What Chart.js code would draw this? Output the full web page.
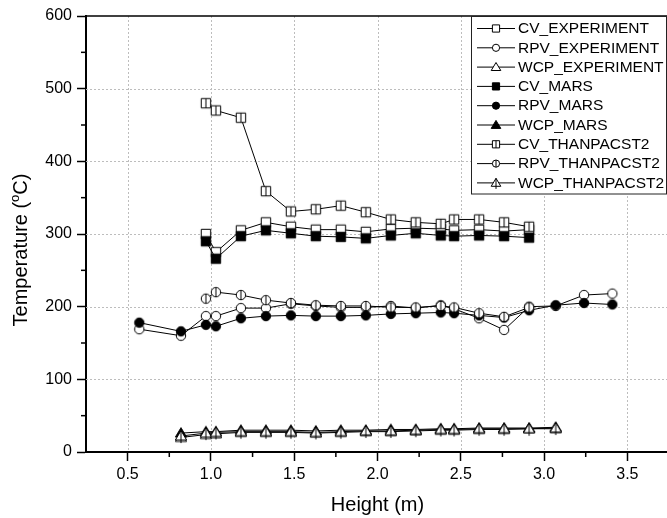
<!DOCTYPE html>
<html>
<head>
<meta charset="utf-8">
<script src="https://cdn.jsdelivr.net/npm/chart.js@4"></script>
<style>
  html, body { margin: 0; padding: 0; background: #fff; overflow: hidden; }
  #wrap { width: 680px; height: 518px; }
</style>
</head>
<body>
<div id="wrap"><canvas id="chart" width="680" height="518"></canvas></div>
<script>
// Heights of the measuring points (m)
const heightsCv = [0.97, 1.03, 1.18, 1.33, 1.48, 1.63, 1.78, 1.93, 2.08, 2.23, 2.38, 2.46, 2.61, 2.76, 2.91];
const heightsRpv = [0.57, 0.82, 0.97, 1.03, 1.18, 1.33, 1.48, 1.63, 1.78, 1.93, 2.08, 2.23, 2.38, 2.46, 2.61, 2.76, 2.91, 3.07, 3.24, 3.41];
const heightsWcp = [0.82, 0.97, 1.03, 1.18, 1.33, 1.48, 1.63, 1.78, 1.93, 2.08, 2.23, 2.38, 2.46, 2.61, 2.76, 2.91, 3.07];

// Temperatures (°C)
const cvExperiment = [300, 275, 305, 316, 310, 306, 306, 303, 307, 308, 307, 305, 306, 304, 306];
const cvMars = [290, 266, 297, 305, 301, 297, 296, 294, 298, 301, 298, 297, 298, 297, 295];
const cvThanpac = [480, 470, 460, 359, 331, 334, 339, 330, 320, 316, 314, 320, 320, 316, 310];

const rpvExperiment = [169, 160, 187, 187, 198, 198, 204, 201, 199, 199, 201, 198, 202, 197, 184, 168, 200, 201, 216, 218];
const rpvMars = [178, 166, 175, 173, 184, 187, 188, 187, 187, 188, 190, 191, 192, 191, 188, 185, 195, 202, 205, 203];
const rpvThanpac = [211, 220, 216, 209, 205, 202, 201, 201, 199, 199, 201, 199, 191, 186, 199];

const wcpExperiment = [20, 24, 25, 27, 27, 27, 26, 27, 28, 28, 29, 30, 30, 31, 31, 32, 32];
const wcpMars = [26, 28, 28, 30, 30, 30, 29, 30, 30, 31, 31, 32, 32, 33, 33, 33, 34];
const wcpThanpac = [22, 26, 27, 28, 28, 28, 27, 28, 29, 29, 30, 31, 31, 32, 32, 32, 33];

// Axis ticks
const xTicks = [0.5, 1.0, 1.5, 2.0, 2.5, 3.0, 3.5];
const yTicks = [0, 100, 200, 300, 400, 500, 600];
const xMinorTicks = [0.75, 1.25, 1.75, 2.25, 2.75, 3.25];
const yMinorTicks = [50, 150, 250, 350, 450, 550];

const FONT = "'Liberation Sans', Arial, sans-serif";

// Draw one marker (open, filled or open with a vertical bar)
function drawMarker(ctx, shape, filled, bar, cx, cy, r) {
  ctx.save();
  ctx.lineWidth = 1;
  ctx.strokeStyle = '#000';
  ctx.fillStyle = filled ? '#000' : '#fff';
  ctx.beginPath();
  if (shape === 'square') {
    ctx.rect(cx - r, cy - r, 2 * r, 2 * r);
  } else if (shape === 'circle') {
    ctx.arc(cx, cy, r, 0, Math.PI * 2);
  } else {
    ctx.moveTo(cx, cy - r * 1.15);
    ctx.lineTo(cx + r * 1.2, cy + r * 0.85);
    ctx.lineTo(cx - r * 1.2, cy + r * 0.85);
    ctx.closePath();
  }
  ctx.fill();
  ctx.stroke();
  if (bar) {
    ctx.beginPath();
    if (shape === 'triangle') {
      ctx.moveTo(cx, cy - r * 1.15);
      ctx.lineTo(cx, cy + r * 1.5);
    } else {
      ctx.moveTo(cx, cy - r);
      ctx.lineTo(cx, cy + r);
    }
    ctx.stroke();
  }
  ctx.restore();
}

function markerCanvas(shape, filled, bar) {
  const c = document.createElement('canvas');
  c.width = 16;
  c.height = 16;
  drawMarker(c.getContext('2d'), shape, filled, bar, 8, 8, 4.7);
  return c;
}

function toPoints(xs, ys) {
  return xs.map((x, i) => ({ x: x, y: ys[i] }));
}

function makeDataset(label, xs, ys, shape, filled, bar, order) {
  return {
    label: label,
    data: toPoints(xs, ys),
    borderColor: '#000',
    borderWidth: 1,
    backgroundColor: '#000',
    pointStyle: markerCanvas(shape, filled, bar),
    pointRadius: 5,
    tension: 0,
    fill: false,
    order: order,
    marker: { shape: shape, filled: filled, bar: bar }
  };
}

const datasets = [
  makeDataset('CV_EXPERIMENT', heightsCv, cvExperiment, 'square', false, false, 2),
  makeDataset('RPV_EXPERIMENT', heightsRpv, rpvExperiment, 'circle', false, false, 2),
  makeDataset('WCP_EXPERIMENT', heightsWcp, wcpExperiment, 'triangle', false, false, 2),
  makeDataset('CV_MARS', heightsCv, cvMars, 'square', true, false, 1),
  makeDataset('RPV_MARS', heightsRpv, rpvMars, 'circle', true, false, 1),
  makeDataset('WCP_MARS', heightsWcp, wcpMars, 'triangle', true, false, 1),
  makeDataset('CV_THANPACST2', heightsCv, cvThanpac, 'square', false, true, 0),
  makeDataset('RPV_THANPACST2', heightsCv, rpvThanpac, 'circle', false, true, 0),
  makeDataset('WCP_THANPACST2', heightsWcp, wcpThanpac, 'triangle', false, true, 0)
];

// Dotted grid, minor ticks, top frame line and the y title with superscript
const framePlugin = {
  id: 'frame',
  beforeDatasetsDraw(chart) {
    const ctx = chart.ctx;
    const area = chart.chartArea;
    const xs = chart.scales.x;
    const ys = chart.scales.y;
    ctx.save();
    ctx.strokeStyle = '#bdbdbd';
    ctx.lineWidth = 1;
    ctx.setLineDash([2, 2]);
    xTicks.forEach(v => {
      const px = Math.round(xs.getPixelForValue(v)) + 0.5;
      ctx.beginPath();
      ctx.moveTo(px, area.top);
      ctx.lineTo(px, area.bottom);
      ctx.stroke();
    });
    yTicks.slice(1, -1).forEach(v => {
      const py = Math.round(ys.getPixelForValue(v)) + 0.5;
      ctx.beginPath();
      ctx.moveTo(area.left, py);
      ctx.lineTo(area.right, py);
      ctx.stroke();
    });
    ctx.setLineDash([]);
    ctx.strokeStyle = '#000';
    ctx.lineWidth = 1.5;
    xMinorTicks.forEach(v => {
      const px = xs.getPixelForValue(v);
      ctx.beginPath();
      ctx.moveTo(px, area.bottom);
      ctx.lineTo(px, area.bottom + 5);
      ctx.stroke();
    });
    yMinorTicks.forEach(v => {
      const py = ys.getPixelForValue(v);
      ctx.beginPath();
      ctx.moveTo(area.left, py);
      ctx.lineTo(area.left - 5, py);
      ctx.stroke();
    });
    ctx.beginPath();
    ctx.moveTo(area.left, area.top);
    ctx.lineTo(area.right, area.top);
    ctx.stroke();

    // y axis title: Temperature (°C) with a raised small "o"
    const big = '20px ' + FONT;
    const small = '13px ' + FONT;
    const parts = [['Temperature (', big, 0], ['o', small, -8], ['C)', big, 0]];
    let total = 0;
    parts.forEach(p => { ctx.font = p[1]; total += ctx.measureText(p[0]).width; });
    ctx.translate(26.5, 250);
    ctx.rotate(-Math.PI / 2);
    ctx.fillStyle = '#000';
    ctx.textBaseline = 'alphabetic';
    ctx.textAlign = 'left';
    let u = -total / 2;
    parts.forEach(p => {
      ctx.font = p[1];
      ctx.fillText(p[0], u, p[2]);
      u += ctx.measureText(p[0]).width;
    });
    ctx.restore();
  }
};

// Boxed legend with line-marker-line samples
const legendPlugin = {
  id: 'boxLegend',
  afterDraw(chart) {
    const ctx = chart.ctx;
    const left = 471.5, top = 16.5, width = 195, height = 177.5;
    ctx.save();
    ctx.fillStyle = '#fff';
    ctx.fillRect(left, top, width, height);
    ctx.strokeStyle = '#222';
    ctx.lineWidth = 1;
    ctx.strokeRect(left, top, width, height);
    ctx.font = '15.5px ' + FONT;
    ctx.textBaseline = 'middle';
    ctx.textAlign = 'left';
    chart.data.datasets.forEach((ds, i) => {
      const cy = 28.5 + i * 19.3;
      ctx.strokeStyle = '#000';
      ctx.lineWidth = 1;
      ctx.beginPath();
      ctx.moveTo(477, cy);
      ctx.lineTo(515, cy);
      ctx.stroke();
      const r = ds.marker.shape === 'triangle' ? 4 : 3.6;
      drawMarker(ctx, ds.marker.shape, ds.marker.filled, ds.marker.bar, 496, cy, r);
      ctx.fillStyle = '#000';
      ctx.fillText(ds.label, 518, cy + 0.5);
    });
    ctx.restore();
  }
};

new Chart(document.getElementById('chart'), {
  type: 'line',
  data: { datasets: datasets },
  options: {
    responsive: false,
    devicePixelRatio: 1,
    animation: false,
    layout: { padding: { left: 0, right: 11, top: 16, bottom: 0 } },
    plugins: {
      legend: { display: false },
      tooltip: { enabled: false }
    },
    scales: {
      x: {
        type: 'linear',
        min: 0.25,
        max: 3.75,
        afterBuildTicks: scale => { scale.ticks = xTicks.map(v => ({ value: v })); },
        afterFit: scale => { scale.height = 66; },
        ticks: {
          color: '#000',
          font: { family: FONT, size: 16 },
          padding: 4,
          maxRotation: 0,
          callback: v => v.toFixed(1)
        },
        grid: {
          drawOnChartArea: false,
          drawTicks: true,
          tickLength: 9,
          tickWidth: 1.5,
          tickColor: '#000',
          color: '#000'
        },
        border: { display: true, color: '#000', width: 2 },
        title: {
          display: true,
          text: 'Height (m)',
          color: '#000',
          font: { family: FONT, size: 20 },
          padding: { top: 0, bottom: 1 }
        }
      },
      y: {
        type: 'linear',
        min: 0,
        max: 600,
        afterBuildTicks: scale => { scale.ticks = yTicks.map(v => ({ value: v })); },
        afterFit: scale => { scale.width = 86; },
        ticks: {
          color: '#000',
          font: { family: FONT, size: 16 },
          padding: 5,
          callback: v => String(v)
        },
        grid: {
          drawOnChartArea: false,
          drawTicks: true,
          tickLength: 9,
          tickWidth: 1.5,
          tickColor: '#000',
          color: '#000'
        },
        border: { display: true, color: '#000', width: 2 },
        title: { display: false }
      }
    }
  },
  plugins: [framePlugin, legendPlugin]
});
</script>
</body>
</html>
